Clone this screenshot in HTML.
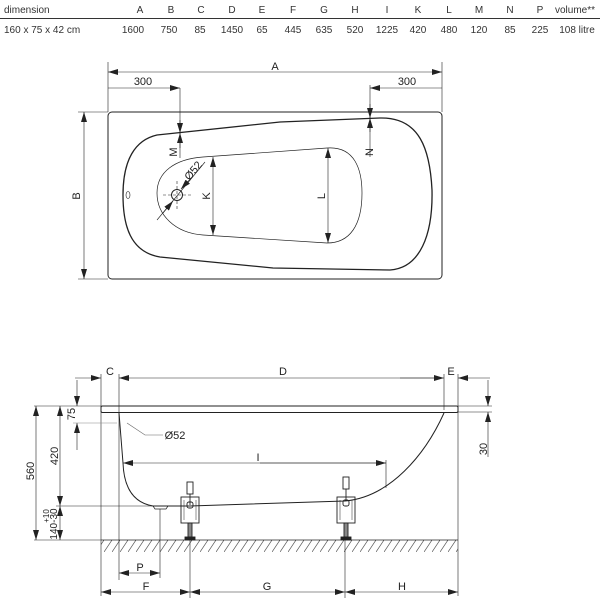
<!DOCTYPE html>
<html><head><style>
body{margin:0;background:#fff;}
svg{display:block;font-family:"Liberation Sans",sans-serif;}
</style></head><body>
<svg width="600" height="600" viewBox="0 0 600 600" xmlns="http://www.w3.org/2000/svg">
<defs>
<marker id="a" viewBox="0 0 10 6" refX="10" refY="3" markerWidth="10" markerHeight="6" orient="auto-start-reverse" markerUnits="userSpaceOnUse"><path d="M0,0 L10,3 L0,6 Z" fill="#222"/></marker>
<pattern id="h" width="8" height="12" patternUnits="userSpaceOnUse"><path d="M0,12 L8,0" stroke="#555" stroke-width="0.7"/></pattern>
</defs>
<g font-size="10" fill="#333">
<text x="4" y="13">dimension</text>
<g text-anchor="middle">
<text x="140" y="13">A</text><text x="171" y="13">B</text><text x="201" y="13">C</text><text x="232" y="13">D</text><text x="262" y="13">E</text><text x="293" y="13">F</text><text x="324" y="13">G</text><text x="355" y="13">H</text><text x="387" y="13">I</text><text x="418" y="13">K</text><text x="449" y="13">L</text><text x="479" y="13">M</text><text x="510" y="13">N</text><text x="540" y="13">P</text><text x="575" y="13">volume**</text>
<text x="133" y="33">1600</text><text x="169" y="33">750</text><text x="200" y="33">85</text><text x="232" y="33">1450</text><text x="262" y="33">65</text><text x="293" y="33">445</text><text x="324" y="33">635</text><text x="355" y="33">520</text><text x="387" y="33">1225</text><text x="418" y="33">420</text><text x="449" y="33">480</text><text x="479" y="33">120</text><text x="510" y="33">85</text><text x="540" y="33">225</text><text x="577" y="33">108 litre</text>
</g>
<text x="4" y="33">160 x 75 x 42 cm</text>
</g>
<line x1="0" y1="18.5" x2="600" y2="18.5" stroke="#333" stroke-width="0.9"/>

<!-- top view -->
<g stroke="#222" fill="none">
<rect x="108" y="112" width="334" height="167" rx="4" stroke-width="1"/>
<path d="M157,135 L280,122 L380,118 C420,117 430,150 432,190 C433,235 420,268 390,270 L273,268 L160,257 C130,252 123,225 123,195 C123,160 135,140 157,135 Z" stroke-width="1.3"/>
<path d="M203,157 L327,148 C355,146 362,170 362,193 C362,225 350,243 327,243 L203,235 C175,233 157,215 157,193 C157,172 175,159 203,157 Z" stroke-width="0.7"/>
<ellipse cx="128" cy="195" rx="2" ry="3.5" stroke-width="0.6"/>
<circle cx="177" cy="195" r="5.5" stroke-width="1"/>
<path d="M163,195 H192 M177,181 V210" stroke-width="0.6" stroke-dasharray="3,2"/>
<g stroke-width="0.6">
<line x1="108" y1="62" x2="108" y2="112"/><line x1="442" y1="62" x2="442" y2="112"/>
<line x1="108" y1="72" x2="442" y2="72" marker-start="url(#a)" marker-end="url(#a)"/>
<line x1="108" y1="88" x2="180" y2="88" marker-end="url(#a)"/>
<line x1="370" y1="88" x2="442" y2="88" marker-start="url(#a)"/>
<line x1="180" y1="88" x2="180" y2="158"/>
<line x1="180" y1="120" x2="180" y2="133" marker-end="url(#a)"/>
<line x1="180" y1="148" x2="180" y2="133" marker-end="url(#a)"/>
<line x1="370" y1="85" x2="370" y2="157"/>
<line x1="370" y1="104" x2="370" y2="118" marker-end="url(#a)"/>
<line x1="370" y1="132" x2="370" y2="118" marker-end="url(#a)"/>
<line x1="213" y1="157" x2="213" y2="235" marker-start="url(#a)" marker-end="url(#a)"/>
<line x1="328" y1="148" x2="328" y2="243" marker-start="url(#a)" marker-end="url(#a)"/>
<line x1="84" y1="112" x2="84" y2="279" marker-start="url(#a)" marker-end="url(#a)"/>
<line x1="78" y1="112" x2="108" y2="112"/><line x1="78" y1="279" x2="108" y2="279"/>
<line x1="157" y1="220" x2="205" y2="162"/>
<line x1="163" y1="213" x2="173" y2="201" marker-end="url(#a)"/>
<line x1="193" y1="176" x2="181" y2="189" marker-end="url(#a)"/>
</g>
</g>
<g font-size="11" fill="#222" text-anchor="middle">
<text x="275" y="70">A</text>
<text x="143" y="85">300</text><text x="407" y="85">300</text>
<text transform="translate(177,152) rotate(-90)">M</text>
<text transform="translate(373,152) rotate(-90)">N</text>
<text transform="translate(210,196) rotate(-90)">K</text>
<text transform="translate(325,196) rotate(-90)">L</text>
<text transform="translate(80,196) rotate(-90)">B</text>
<text transform="translate(196,173) rotate(-50)">Ø52</text>
</g>

<!-- side view -->
<rect x="101" y="540" width="357" height="12" fill="url(#h)"/>
<g stroke="#222" fill="none">
<line x1="101" y1="540" x2="458" y2="540" stroke-width="0.8"/>
<rect x="101" y="406" width="357" height="6.5" rx="1.5" stroke-width="1"/>
<path d="M119,413 L123,463 C124,490 135,503 153,506 L190,506 L345,501 C390,497 425,455 444,413" stroke-width="1"/>
<path d="M153,506 L155,509 L166,509 L168,506" stroke-width="0.7"/>
<g stroke-width="0.9">
<rect x="181" y="497" width="18" height="26"/><rect x="187" y="482" width="6" height="12"/><line x1="190" y1="494" x2="190" y2="505"/><rect x="187" y="502" width="6" height="6" rx="2"/>
<rect x="188" y="523" width="4" height="14" fill="#888"/><rect x="185" y="537" width="10" height="3" fill="#222"/>
<line x1="184" y1="500" x2="184" y2="520" stroke-width="0.5"/><line x1="196" y1="500" x2="196" y2="520" stroke-width="0.5"/>
<rect x="337" y="497" width="18" height="26"/><rect x="343" y="477" width="6" height="12"/><line x1="346" y1="489" x2="346" y2="500"/><rect x="343" y="500" width="6" height="6" rx="2"/>
<rect x="344" y="523" width="4" height="14" fill="#888"/><rect x="341" y="537" width="10" height="3" fill="#222"/>
<line x1="340" y1="500" x2="340" y2="520" stroke-width="0.5"/><line x1="352" y1="500" x2="352" y2="520" stroke-width="0.5"/>
</g>
<g stroke-width="0.6">
<line x1="101" y1="374" x2="101" y2="596"/><line x1="119" y1="374" x2="119" y2="580"/>
<line x1="444" y1="374" x2="444" y2="410"/><line x1="458" y1="374" x2="458" y2="596"/>
<line x1="75" y1="378" x2="101" y2="378" marker-end="url(#a)"/>
<line x1="440" y1="378" x2="119" y2="378" marker-end="url(#a)"/>
<line x1="400" y1="378" x2="444" y2="378" marker-end="url(#a)"/>
<line x1="490" y1="378" x2="458" y2="378" marker-end="url(#a)"/>
<line x1="488" y1="380" x2="488" y2="406" marker-end="url(#a)"/>
<line x1="488" y1="457" x2="488" y2="412" marker-end="url(#a)"/>
<line x1="458" y1="406" x2="492" y2="406"/><line x1="458" y1="412" x2="492" y2="412"/>
<line x1="77" y1="380" x2="77" y2="406" marker-end="url(#a)"/>
<line x1="77" y1="450" x2="77" y2="423" marker-end="url(#a)"/>
<line x1="73" y1="423" x2="117" y2="423" stroke="#888"/>
<line x1="34" y1="406" x2="101" y2="406"/><line x1="34" y1="540" x2="101" y2="540"/>
<line x1="36" y1="406" x2="36" y2="540" marker-start="url(#a)" marker-end="url(#a)"/>
<line x1="60" y1="406" x2="60" y2="506" marker-start="url(#a)" marker-end="url(#a)"/>
<line x1="60" y1="506" x2="60" y2="540" marker-start="url(#a)" marker-end="url(#a)"/>
<line x1="56" y1="506" x2="153" y2="506"/>
<path d="M127,423 L145,435 L163,435" stroke="#666"/>
<line x1="386" y1="463" x2="123" y2="463" marker-end="url(#a)"/>
<line x1="260" y1="463" x2="386" y2="463" marker-end="url(#a)"/>
<line x1="386" y1="460" x2="386" y2="488"/>
<line x1="160" y1="509" x2="160" y2="578"/>
<line x1="119" y1="573" x2="160" y2="573" marker-start="url(#a)" marker-end="url(#a)"/>
<line x1="190" y1="540" x2="190" y2="598"/><line x1="345" y1="540" x2="345" y2="598"/>
<line x1="101" y1="592" x2="190" y2="592" marker-start="url(#a)" marker-end="url(#a)"/>
<line x1="190" y1="592" x2="345" y2="592" marker-start="url(#a)" marker-end="url(#a)"/>
<line x1="345" y1="592" x2="458" y2="592" marker-start="url(#a)" marker-end="url(#a)"/>
</g>
</g>
<g font-size="11" fill="#222" text-anchor="middle">
<text x="110" y="375">C</text><text x="283" y="375">D</text><text x="451" y="375">E</text>
<text transform="translate(487,449) rotate(-90)">30</text>
<text transform="translate(75,414) rotate(-90)">75</text>
<text transform="translate(34,471) rotate(-90)">560</text>
<text transform="translate(58,456) rotate(-90)">420</text>
<text transform="translate(57,524) rotate(-90)" font-size="10">140-30</text>
<text transform="translate(49,516) rotate(-90)" font-size="8">+10</text>
<text x="175" y="439">Ø52</text>
<text x="258" y="461">I</text>
<text x="140" y="571">P</text>
<text x="146" y="590">F</text><text x="267" y="590">G</text><text x="402" y="590">H</text>
</g>
</svg>
</body></html>
